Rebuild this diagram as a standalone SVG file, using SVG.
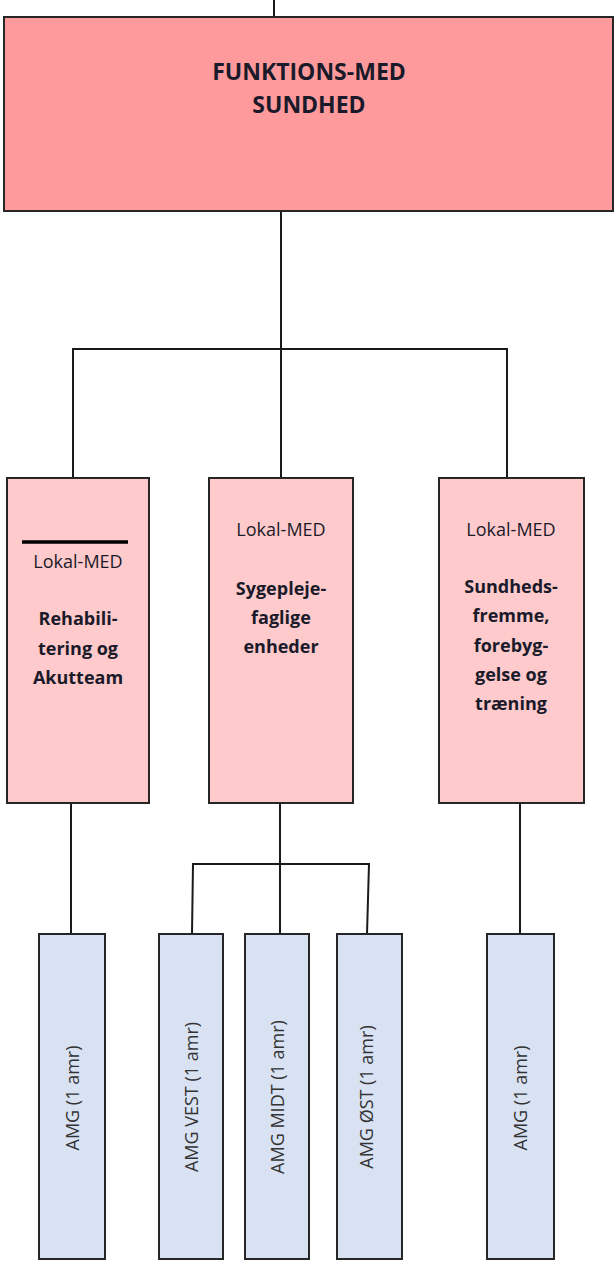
<svg xmlns="http://www.w3.org/2000/svg" width="616" height="1264" viewBox="0 0 616 1264">
<style>
.box{stroke:#262626;stroke-width:2}
.top{fill:#FF9A9C}
.mid{fill:#FFCACB}
.amg{fill:#D9E2F3}
.conn{stroke:#1a1a1a;stroke-width:2;fill:none}
.t{font-family:"Open Sans","Liberation Sans",sans-serif;fill:#1a1a2a;text-anchor:middle}
.title{font-size:23px;font-weight:bold}
.lok{font-size:18px}
.bd{font-size:18px;font-weight:bold}
.v{font-size:18px;fill:#333;dominant-baseline:central}
</style>
<rect width="616" height="1264" fill="#fff"/>
<g id="connectors">
<line class="conn" x1="274" y1="0" x2="274" y2="17"/>
<line class="conn" x1="281" y1="211" x2="281" y2="478"/>
<polyline class="conn" points="73,478 73,349 507,349 507,478"/>
<line class="conn" x1="71" y1="803" x2="71" y2="934"/>
<line class="conn" x1="280" y1="803" x2="280" y2="934"/>
<polyline class="conn" points="192,934 193,864 369,864 367,934"/>
<line class="conn" x1="520" y1="803" x2="520" y2="934"/>
</g>
<g id="funktions-med">
<rect class="box top" x="4" y="17" width="609" height="194"/>
<text class="t title" x="309" y="80">FUNKTIONS-MED</text>
<text class="t title" x="309" y="113">SUNDHED</text>
</g>
<g id="lokal-rehab">
<rect class="box mid" x="7" y="478" width="142" height="325"/>
<line x1="22" y1="542" x2="128" y2="542" stroke="#000" stroke-width="3.5"/>
<text class="t lok" x="78" y="568">Lokal-MED</text>
<text class="t bd" x="78" y="625">Rehabili-</text>
<text class="t bd" x="78" y="655">tering og</text>
<text class="t bd" x="78" y="684">Akutteam</text>
</g>
<g id="lokal-sygepleje">
<rect class="box mid" x="209" y="478" width="144" height="325"/>
<text class="t lok" x="281" y="536">Lokal-MED</text>
<text class="t bd" x="281" y="595">Sygepleje-</text>
<text class="t bd" x="281" y="624">faglige</text>
<text class="t bd" x="281" y="653">enheder</text>
</g>
<g id="lokal-sundhed">
<rect class="box mid" x="439" y="478" width="145" height="325"/>
<text class="t lok" x="511" y="536">Lokal-MED</text>
<text class="t bd" x="511" y="593">Sundheds-</text>
<text class="t bd" x="511" y="622">fremme,</text>
<text class="t bd" x="511" y="652">forebyg-</text>
<text class="t bd" x="511" y="681">gelse og</text>
<text class="t bd" x="511" y="710">træning</text>
</g>
<g id="amg-1">
<rect class="box amg" x="39" y="934" width="66" height="325"/>
<text class="t v" transform="translate(72,1098) rotate(-90)">AMG (1 amr)</text>
</g>
<g id="amg-vest">
<rect class="box amg" x="159" y="934" width="64" height="325"/>
<text class="t v" transform="translate(191,1097) rotate(-90)">AMG VEST (1 amr)</text>
</g>
<g id="amg-midt">
<rect class="box amg" x="245" y="934" width="64" height="325"/>
<text class="t v" transform="translate(277,1097) rotate(-90)">AMG MIDT (1 amr)</text>
</g>
<g id="amg-oest">
<rect class="box amg" x="337" y="934" width="65" height="325"/>
<text class="t v" transform="translate(366,1097) rotate(-90)">AMG ØST (1 amr)</text>
</g>
<g id="amg-5">
<rect class="box amg" x="487" y="934" width="67" height="325"/>
<text class="t v" transform="translate(520,1098) rotate(-90)">AMG (1 amr)</text>
</g>
</svg>
